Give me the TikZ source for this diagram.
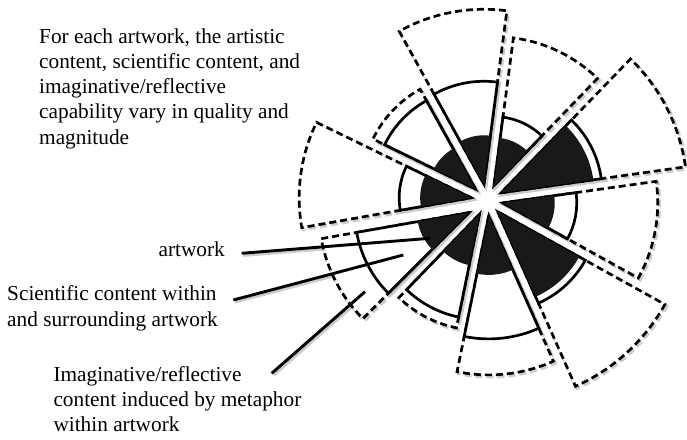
\documentclass[tikz,border=0pt]{standalone}
\usepackage{fontspec}
\setmainfont{Liberation Serif}
\usetikzlibrary{calc}
\newcommand\wdg[6]{%
  \path[dsh] #1 -- ++(#2:#4) arc[start angle=#2,end angle=#3,radius=#4] -- cycle;
  \path[sld] #1 -- ++(#2:#5) arc[start angle=#2,end angle=#3,radius=#5] -- cycle;
  \path[blk] #1 -- ++(#2:#6) arc[start angle=#2,end angle=#3,radius=#6] -- cycle;
}
% all wedges around centre #1: apex, start angle, end angle, dashed r, solid r, black r
\newcommand\allwedges[1]{%
  \wdg{($(#1)+(100.75:16)$)}{82.5}{119}{175}{103}{49}
  \wdg{($(#1)+(64.25:16)$)}{46}{82.5}{149}{69}{48}
  \wdg{($(#1)+(27:16)$)}{8}{46}{186}{101}{93}
  \wdg{($(#1)+(-10.5:16)$)}{-29}{8}{155}{74}{52}
  \wdg{($(#1)+(-47.5:16)$)}{-66}{-29}{191}{100}{93}
  \wdg{($(#1)+(-83.75:16)$)}{-101.5}{-66}{159}{123}{59}
  \wdg{($(#1)+(-117.75:16)$)}{-134}{-101.5}{116}{105}{52}
  \wdg{($(#1)+(215:22)$)}{190}{225}{150}{114}{52}
  \wdg{($(#1)+(172:16)$)}{154}{190}{172}{72}{51}
  \wdg{($(#1)+(136.5:16)$)}{119}{154}{114}{101}{46}
}
\begin{document}
\begin{tikzpicture}[x=1pt,y=1pt,
  dsh/.style={draw=black,line width=2.7pt,dash pattern=on 7pt off 4pt,fill=white,line join=miter},
  sld/.style={draw=black,line width=2.7pt,fill=white,line join=miter},
  blk/.style={fill=black!90},
  ptr/.style={draw=black,line width=2.9pt},
  lbl/.style={font=\fontsize{21.3}{25.5}\selectfont,inner sep=0pt}]
\useasboundingbox (0,0) rectangle (687,439);
\coordinate (C) at (487,239);
\coordinate (Cs) at (488.6,237.2);
% pointer ends
\coordinate (p1a) at (241.7,185.7); \coordinate (p1b) at (430,200.7);
\coordinate (p2a) at (233.3,139);   \coordinate (p2b) at (403.3,184);
\coordinate (p3a) at (271.7,65.7);  \coordinate (p3b) at (365,147.3);
% soft shadow layer
\begin{scope}[
  dsh/.style={draw=black!20,line width=3.6pt,dash pattern=on 7pt off 4pt,line join=miter},
  sld/.style={draw=black!20,line width=3.6pt,line join=miter},
  blk/.style={fill=black!20},
  ptr/.style={draw=black!20,line width=3.6pt}]
  \allwedges{Cs}
  \draw[ptr] ([shift={(1.6,-1.8)}]p1a) -- ([shift={(1.6,-1.8)}]p1b);
  \draw[ptr] ([shift={(1.6,-1.8)}]p2a) -- ([shift={(1.6,-1.8)}]p2b);
  \draw[ptr] ([shift={(1.6,-1.8)}]p3a) -- ([shift={(1.6,-1.8)}]p3b);
\end{scope}
% main layer
\allwedges{C}
% text
\node[lbl,anchor=base west] (t1) at (39,395.7) {For each artwork, the artistic};
\node[lbl,anchor=base west] (t2) at (39,370.5) {content, scientific content, and};
\node[lbl,anchor=base west] (t3) at (39,345.2) {imaginative/reflective};
\node[lbl,anchor=base west] (t4) at (39,320) {capability vary in quality and};
\node[lbl,anchor=base west] (t5) at (39,294.7) {magnitude};
\node[lbl,anchor=base east] (la) at (225,182.3) {artwork};
\node[lbl,anchor=base west] (ls1) at (7,139) {Scientific content within};
\node[lbl,anchor=base west] (ls2) at (7,112.3) {and surrounding artwork};
\node[lbl,anchor=base west] (li1) at (53.3,57.3) {Imaginative/reflective};
\node[lbl,anchor=base west] (li2) at (53.3,32.3) {content induced by metaphor};
\node[lbl,anchor=base west] (li3) at (53.3,7.3) {within artwork};
% pointers
\draw[ptr] (p1a) -- (p1b);
\draw[ptr] (p2a) -- (p2b);
\draw[ptr] (p3a) -- (p3b);
\end{tikzpicture}
\end{document}
